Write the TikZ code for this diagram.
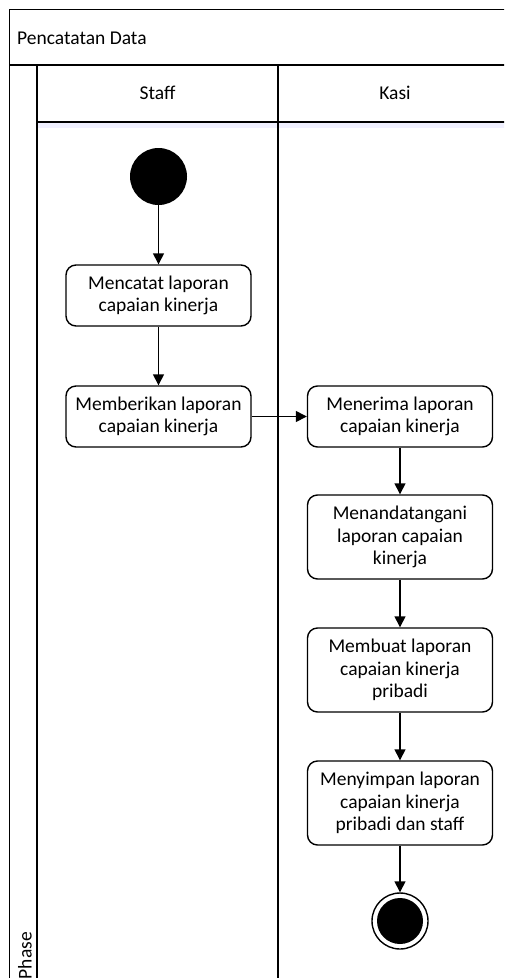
\documentclass[tikz,border=0pt]{standalone}
\usepackage{fontspec}
\setmainfont{Carlito}
\usetikzlibrary{arrows.meta}

\tikzset{
    lane/.style={draw, line width=1.6pt},
    act/.style={draw, line width=1.4pt, rounded corners=10pt, fill=white,
        minimum width=185pt, inner sep=0pt, align=center,
        font=\fontsize{19.5}{22.5}\selectfont},
    flow/.style={line width=1.4pt, -{Triangle[length=11pt,width=11pt]}},
    lbl/.style={font=\fontsize{19.5}{23}\selectfont, inner sep=0pt}
}

\begin{document}
\begin{tikzpicture}[x=1pt, y=-1pt]
        \useasboundingbox (0,0) rectangle (504,978);
        \clip (0,0) rectangle (504,978);

        % pool and lanes
        \fill[blue!6] (37,122) rectangle (520,128);
        \draw[lane] (520,9.5) -- (9.5,9.5) -- (9.5,990);
        \draw[lane] (9.5,65) -- (520,65);
        \draw[lane] (37,65) -- (37,990);
        \draw[lane] (37,122) -- (520,122);
        \draw[lane] (278,65) -- (278,990);

        \node[lbl, anchor=west] (pool) at (17,38) {Pencatatan Data};
        \node[lbl] (staff) at (157.5,93) {Staff};
        \node[lbl] (kasi) at (395,93) {Kasi};
        \node[lbl, rotate=90, anchor=east] (phase) at (25,932) {Phase};

        % staff
        \node[circle, fill=black, minimum size=57pt, inner sep=0pt] (start) at (158.5,176.5) {};
        \node[act, minimum height=61pt] (mencatat) at (158.5,295.5) {Mencatat laporan\\capaian kinerja};
        \node[act, minimum height=61pt] (memberi) at (158.5,416.5) {Memberikan laporan\\capaian kinerja};

        % kasi
        \node[act, minimum height=61pt] (terima) at (400,416.5) {Menerima laporan\\capaian kinerja};
        \node[act, minimum height=84pt] (ttd) at (400,537) {Menandatangani\\laporan capaian\\kinerja};
        \node[act, minimum height=84pt] (buat) at (400,670) {Membuat laporan\\capaian kinerja\\pribadi};
        \node[act, minimum height=84pt] (simpan) at (400,803) {Menyimpan laporan\\capaian kinerja\\pribadi dan staff};

        \node[circle, draw, line width=1.4pt, minimum size=56pt, inner sep=0pt] (stop) at (400,921) {};
        \fill[black] (stop.center) circle (23pt);

        % flows
        \draw[flow] (start) -- (mencatat);
        \draw[flow] (mencatat) -- (memberi);
        \draw[flow] (memberi) -- (terima);
        \draw[flow] (terima) -- (ttd);
        \draw[flow] (ttd) -- (buat);
        \draw[flow] (buat) -- (simpan);
        \draw[flow] (simpan) -- (stop);
\end{tikzpicture}
\end{document}
